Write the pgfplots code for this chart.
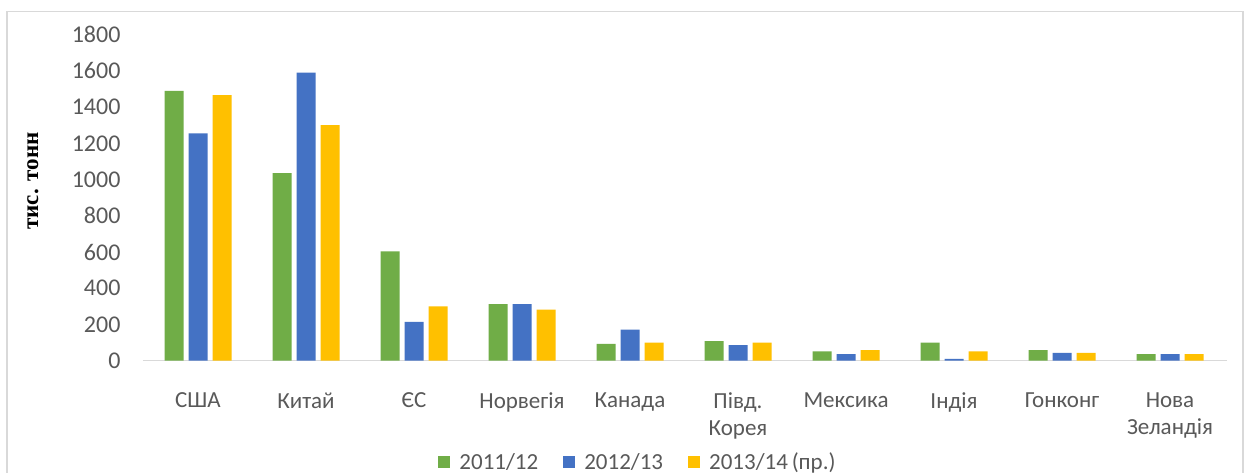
\documentclass[border=0pt]{standalone}
\usepackage{pgfplots}
\pgfplotsset{compat=1.18}
\usepackage{fontspec}
\setmainfont{Carlito}
\newfontfamily\serifbold{Liberation Serif}
\definecolor{cgreen}{HTML}{70AD47}
\definecolor{cblue}{HTML}{4472C4}
\definecolor{cyellow}{HTML}{FFC000}
\definecolor{tgray}{HTML}{595959}
\definecolor{lgray}{HTML}{D9D9D9}
\pgfplotstableread{
x g b y
0 1490 1255 1467
1 1036 1590 1300
2 604 215 300
3 313 313 282
4 93 172 100
5 108 86 100
6 51 36 58
7 100 10 51
8 58 43 43
9 36 36 36
}\datatable
\begin{document}
\begin{tikzpicture}[x=1pt,y=1pt]
\useasboundingbox (0,0) rectangle (1248,473);
\fill[white] (0,0) rectangle (1248,473);
\draw[line width=1.5pt, lgray] (7,-5) rectangle (1243,461.3);
\begin{axis}[
  at={(144pt,112.3pt)}, anchor=south west,
  scale only axis, width=1080pt, height=326pt,
  ybar=5pt, bar width=19pt,
  xmin=-0.5, xmax=9.5, ymin=0, ymax=1800,
  xtick={0,...,9},
  xticklabels={США, Китай, ЄС, Норвегія, Канада, {Півд.\\Корея}, Мексика, Індія, Гонконг, {Нова\\Зеландія}},
  xticklabel style={align=center, anchor=north, font=\fontsize{23}{27.5}\selectfont, text=tgray, yshift=-24pt},
  ytick={0,200,...,1800},
  yticklabel style={anchor=east, font=\fontsize{24}{28}\selectfont, text=tgray, xshift=-20pt},
  /pgf/number format/assume math mode=true,
  /pgf/number format/1000 sep={},
  axis line style={draw=none},
  tick style={draw=none},
  ylabel={тис. тонн},
  every axis y label/.style={at={(axis description cs:-0.1028,0.551)}, rotate=90, anchor=center, font=\serifbold\bfseries\fontsize{23}{26}\selectfont, text=black},
  legend columns=3,
  legend style={at={(axis description cs:0.4565,-0.3107)}, anchor=center, draw=none, fill=none,
    font=\fontsize{23}{28}\selectfont, text=tgray, nodes={inner sep=0pt},
    /tikz/every odd column/.append style={column sep=9pt},
    /tikz/every even column/.append style={column sep=25pt}},
  legend image code/.code={\fill[#1, draw=none] (0pt,-6pt) rectangle (12pt,6pt);},
  clip=false,
]
\draw[lgray, line width=1.5pt] (axis cs:-0.51,0) -- (axis cs:9.53,0);
\addplot[fill=cgreen, draw=none] table[x=x,y=g] {\datatable};
\addplot[fill=cblue, draw=none] table[x=x,y=b] {\datatable};
\addplot[fill=cyellow, draw=none] table[x=x,y=y] {\datatable};
\legend{2011/12, 2012/13, 2013/14\,(пр.)}
\end{axis}
\end{tikzpicture}
\end{document}
